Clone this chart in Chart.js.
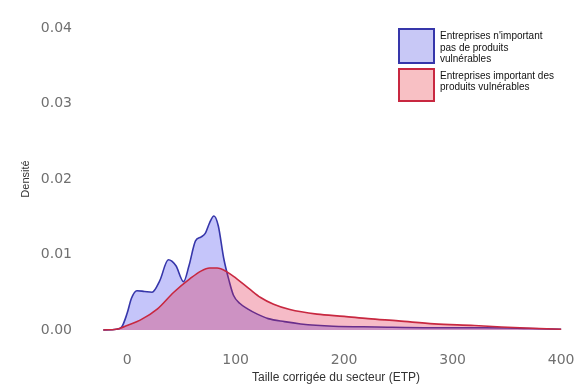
<!DOCTYPE html>
<html lang="fr">
<head>
<meta charset="utf-8">
<title>Densité selon la taille corrigée du secteur</title>
<script src="https://cdn.jsdelivr.net/npm/chart.js@4/dist/chart.umd.min.js"></script>
<style>
  html, body { margin: 0; padding: 0; background: #fff; }
  #wrap { position: relative; width: 583px; height: 389px; }
  #legend { position: absolute; left: 398px; top: 28px; font-family: "Liberation Sans", Arial, sans-serif; font-size: 10px; color: #111; }
  .item { display: flex; align-items: flex-start; }
  .swatch { box-sizing: border-box; width: 37px; border: 2px solid; flex: none; }
  .txt { margin-left: 5px; line-height: 11.5px; white-space: nowrap; }
</style>
</head>
<body>
<div id="wrap">
  <canvas id="c" width="583" height="389"></canvas>
  <div id="legend"></div>
</div>
<script>
// Series labels
const seriesLabels = [
  ["Entreprises n'important", "pas de produits", "vulnérables"],
  ["Entreprises important des", "produits vulnérables"]
];

// Firms not importing vulnerable products: size (ETP) and estimated density
const sizesNoImport = [-22, -10, -5, 0, 4, 9, 16, 23, 30, 38, 45, 52, 57, 63, 68, 72, 76, 80, 84, 89, 94, 98, 104, 111, 120, 130, 145, 160, 190, 230, 280, 330, 370, 400];
const densityNoImport = [0, 0.0001, 0.0004, 0.0022, 0.0042, 0.0052, 0.0051, 0.0050, 0.0065, 0.0093, 0.0085, 0.0064, 0.0085, 0.0118, 0.0123, 0.0128, 0.0142, 0.0151, 0.0138, 0.0095, 0.0065, 0.0046, 0.0035, 0.0028, 0.0021, 0.0015, 0.0011, 0.0008, 0.0005, 0.0004, 0.0003, 0.0003, 0.0002, 0.0001];

// Firms importing vulnerable products: size (ETP) and estimated density
const sizesImport = [-22, -10, -5, 0, 12, 28, 43, 58, 68, 76, 83, 92, 100, 113, 123, 135, 150, 175, 200, 222, 250, 283, 320, 345, 380, 400];
const densityImport = [0, 0.0001, 0.0003, 0.0006, 0.0013, 0.0028, 0.0050, 0.0068, 0.0078, 0.0082, 0.0082, 0.0077, 0.0069, 0.0054, 0.0043, 0.0034, 0.0027, 0.0021, 0.0018, 0.0015, 0.0012, 0.0008, 0.0006, 0.0004, 0.0002, 0.0001];

// Axis ticks
const xTicks = [0, 100, 200, 300, 400];
const yTicks = [0, 0.01, 0.02, 0.03, 0.04];

const colors = [
  { line: '#3636aa', fill: 'rgba(40, 40, 235, 0.27)', box: '#c8c8f6' },
  { line: '#c82840', fill: 'rgba(225, 30, 70, 0.30)', box: '#f8c0c4' }
];

const toPoints = (xs, ys) => xs.map((x, i) => ({ x: x, y: ys[i] }));

const datasets = [
  {
    label: seriesLabels[0].join(' '),
    data: toPoints(sizesNoImport, densityNoImport),
    borderColor: colors[0].line,
    backgroundColor: colors[0].fill,
    order: 1
  },
  {
    label: seriesLabels[1].join(' '),
    data: toPoints(sizesImport, densityImport),
    borderColor: colors[1].line,
    backgroundColor: colors[1].fill,
    order: 0
  }
].map(d => Object.assign(d, {
  fill: 'origin',
  borderWidth: 1.6,
  pointRadius: 0,
  cubicInterpolationMode: 'monotone'
}));

const tickFont = { family: '"DejaVu Sans", "Liberation Sans", sans-serif', size: 14 };

new Chart(document.getElementById('c'), {
  type: 'line',
  data: { datasets: datasets },
  options: {
    responsive: false,
    animation: false,
    layout: { padding: { top: 22, right: 11, left: 0, bottom: 0 } },
    plugins: { legend: { display: false }, tooltip: { enabled: false } },
    scales: {
      x: {
        type: 'linear',
        min: -25,
        max: 410,
        border: { display: false },
        grid: { display: false, drawTicks: false },
        afterBuildTicks: s => { s.ticks = xTicks.map(v => ({ value: v })); },
        afterFit: s => { s.height = 53; s.paddingLeft = 0; s.paddingRight = 0; },
        ticks: { color: '#707070', font: tickFont, padding: 16, maxRotation: 0 },
        title: {
          display: true,
          text: 'Taille corrigée du secteur (ETP)',
          color: '#333',
          font: { family: '"Liberation Sans", Arial, sans-serif', size: 12 },
          padding: { top: 0, bottom: 4 }
        }
      },
      y: {
        min: -0.0008,
        max: 0.0408,
        border: { display: false },
        grid: { display: false, drawTicks: false },
        afterBuildTicks: s => { s.ticks = yTicks.map(v => ({ value: v })); },
        afterFit: s => { s.width = 100; s.paddingTop = 0; s.paddingBottom = 0; },
        ticks: { color: '#707070', font: tickFont, padding: 28, callback: v => v.toFixed(2) },
        title: {
          display: true,
          text: 'Densité',
          color: '#333',
          font: { family: '"Liberation Sans", Arial, sans-serif', size: 11 },
          padding: { top: 19, bottom: 0 }
        }
      }
    }
  }
});

// Legend built from the series labels and colours
const legend = document.getElementById('legend');
seriesLabels.forEach((lines, i) => {
  const item = document.createElement('div');
  item.className = 'item';
  const sw = document.createElement('div');
  sw.className = 'swatch';
  sw.style.background = colors[i].box;
  sw.style.borderColor = colors[i].line;
  sw.style.height = (i === 0 ? 36 : 34) + 'px';
  if (i === 1) item.style.marginTop = '3px';
  const txt = document.createElement('div');
  txt.className = 'txt';
  txt.style.paddingTop = '2px';
  txt.innerHTML = lines.map(l => l.replace(/&/g, '&amp;')).join('<br>');
  item.appendChild(sw);
  item.appendChild(txt);
  legend.appendChild(item);
});
</script>
</body>
</html>
